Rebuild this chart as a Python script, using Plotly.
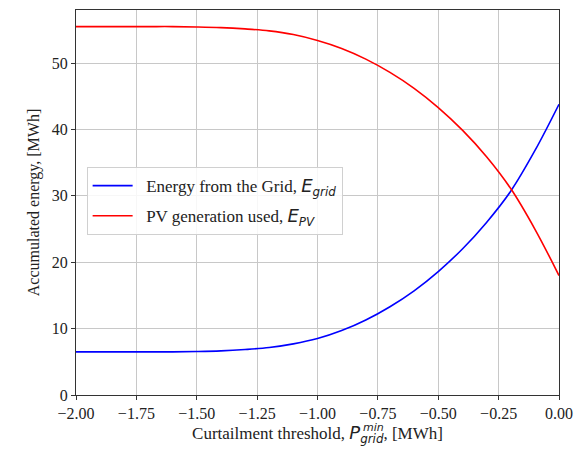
import plotly.graph_objects as go

threshold = [-2.0, -1.9, -1.8, -1.7, -1.6, -1.5, -1.4, -1.3, -1.2, -1.1, -1.0,
             -0.9, -0.8, -0.7, -0.6, -0.5, -0.4, -0.3, -0.2, -0.1, 0.0]
e_grid = [6.5, 6.5, 6.5, 6.5, 6.5, 6.55, 6.65, 6.85, 7.15, 7.7, 8.5,
          9.7, 11.3, 13.3, 15.7, 18.6, 22.0, 26.0, 30.7, 36.8, 43.8]
e_pv = [55.5, 55.5, 55.5, 55.5, 55.5, 55.45, 55.35, 55.15, 54.85, 54.3, 53.4,
        52.2, 50.6, 48.6, 46.2, 43.3, 39.9, 35.9, 31.1, 25.0, 18.0]

x_ticks = [-2.0, -1.75, -1.5, -1.25, -1.0, -0.75, -0.5, -0.25, 0.0]
x_tick_text = ["\u22122.00", "\u22121.75", "\u22121.50", "\u22121.25", "\u22121.00",
               "\u22120.75", "\u22120.50", "\u22120.25", "0.00"]
y_ticks = [0, 10, 20, 30, 40, 50]

MATH = "font-family:'DejaVu Sans';font-style:italic"
MATHBIG = MATH + ";font-size:18px"

fig = go.Figure()
fig.add_trace(go.Scatter(
    x=threshold, y=e_grid, mode="lines", line_shape="spline",
    line=dict(color="#0000ff", width=1.6), legendgroup="g1",
    name=f"&nbsp;&nbsp;Energy from the Grid, <span style=\"{MATHBIG}\">E</span><sub><span style=\"{MATH}\">grid</span></sub>"))
fig.add_trace(go.Scatter(
    x=threshold, y=e_pv, mode="lines", line_shape="spline",
    line=dict(color="#ff0000", width=1.6), legendgroup="g2",
    name=f"&nbsp;&nbsp;PV generation used, <span style=\"{MATHBIG}\">E</span><sub><span style=\"{MATH}\">PV</span></sub>"))

axis_common = dict(
    showline=True, linecolor="#333333", linewidth=1.2, mirror=True,
    showgrid=True, gridcolor="#c8c8c8", gridwidth=1,
    ticks="outside", ticklen=4, tickcolor="#333333", tickwidth=1,
    zeroline=False,
    tickfont=dict(family="Liberation Serif", size=16, color="#222222"),
)

fig.update_layout(
    width=586, height=453,
    margin=dict(l=76, r=27, t=10, b=58),
    paper_bgcolor="white", plot_bgcolor="white",
    font=dict(family="Liberation Serif", size=16, color="#222222"),
    xaxis=dict(range=[-2.0, 0.0], tickvals=x_ticks, ticktext=x_tick_text,
               title=dict(text=f"Curtailment threshold, <span style=\"{MATHBIG}\">P</span><sub><span style=\"{MATH}\">grid</span></sub>, [MWh]",
                          font=dict(family="Liberation Serif", size=17), standoff=4),
               **axis_common),
    yaxis=dict(range=[0, 58], tickvals=y_ticks,
               title=dict(text="Accumulated energy, [MWh]",
                          font=dict(family="Liberation Serif", size=16), standoff=8),
               **axis_common),
    legend=dict(x=0.022, y=0.592, xanchor="left", yanchor="top",
                bgcolor="rgba(255,255,255,0.85)", bordercolor="#d0d0d0", borderwidth=1,
                font=dict(family="Liberation Serif", size=17, color="#222222"),
                itemwidth=40, tracegroupgap=5),
    showlegend=True,
)

fig.add_annotation(text=f"<span style=\"{MATH}\">min</span>", xref="paper", yref="paper",
                   x=0.59, y=0, xanchor="left", yanchor="middle", yshift=-32,
                   showarrow=False, font=dict(size=11, color="#222222"))

fig.write_html("out.html")
